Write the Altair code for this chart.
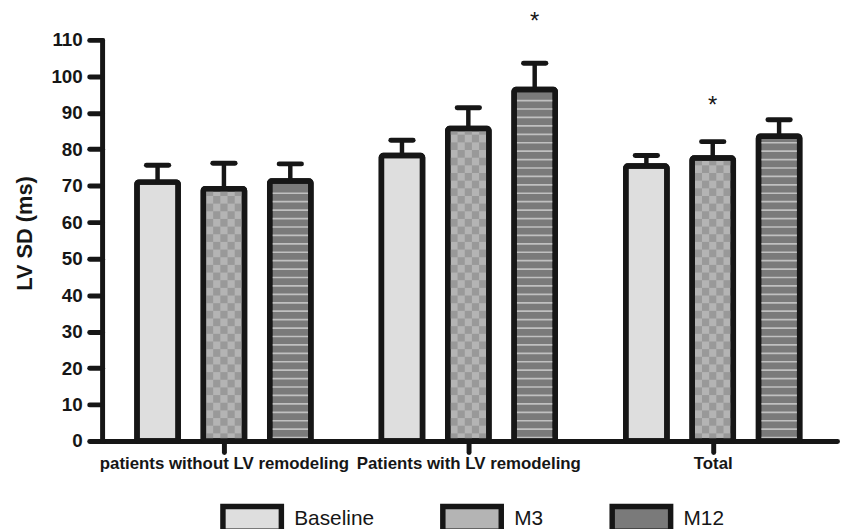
import math
import altair as alt
import pandas as pd

# ---------------- data ----------------
groups = ["patients without LV remodeling", "Patients with LV remodeling", "Total"]
series = ["Baseline", "M3", "M12"]

baseline_mean = [71.0, 78.3, 75.4]
m3_mean = [69.2, 85.7, 77.6]
m12_mean = [71.3, 96.4, 83.6]

baseline_err = [4.6, 4.2, 2.9]
m3_err = [7.0, 5.7, 4.5]
m12_err = [4.7, 7.2, 4.5]

star_groups = ["Patients with LV remodeling", "Total"]
star_series = ["M12", "M3"]
star_levels = [115.5, 92.4]

y_ticks = list(range(0, 111, 10))

# ---------------- layout / style ----------------
FONT = "Liberation Sans"
INK = "#161616"
FILL = {"Baseline": "#dedede", "M3": "#b4b4b4", "M12": "#7a7a7a"}
CHECK_DARK = "#999999"
STRIPE = "#c0c0c0"

W, H = 742, 405
X_MAX = 11.075
FIRST = 0.836
GAP = 3.683
STEP = 1.0
BAR_HW = 0.31          # half width of bar (stroke centre)
INNER_HW = 0.27        # half width of the inner (patterned) area
TOP_INSET = 0.75       # stroke half-thickness in y units
CAP_HW = 0.168
N_COLS = 5
CELL_H = 2.1
STRIPE_START = 0.95
STRIPE_STEP = 2.31

means = {"Baseline": baseline_mean, "M3": m3_mean, "M12": m12_mean}
errs = {"Baseline": baseline_err, "M3": m3_err, "M12": m12_err}

rows = []
for g, grp in enumerate(groups):
    for s, ser in enumerate(series):
        c = FIRST + g * GAP + s * STEP
        m = means[ser][g]
        e = errs[ser][g]
        rows.append(dict(group=grp, series=ser, xc=c, x0=c - BAR_HW, x1=c + BAR_HW,
                         base=0.0, mean=m, top=m + e, cap0=c - CAP_HW, cap1=c + CAP_HW))
bars = pd.DataFrame(rows)

cells = []
stripes = []
for r in rows:
    inner_top = r["mean"] - TOP_INSET
    left = r["xc"] - INNER_HW
    cw = 2 * INNER_HW / N_COLS
    if r["series"] == "M3":
        n = math.ceil(inner_top / CELL_H)
        for i in range(n):
            y0 = i * CELL_H
            y1 = min((i + 1) * CELL_H, inner_top)
            for j in range(N_COLS):
                if (i + j) % 2 == 0:
                    cells.append(dict(cx0=left + j * cw, cx1=left + (j + 1) * cw, cy0=y0, cy1=y1))
    if r["series"] == "M12":
        lvl = STRIPE_START
        while lvl < inner_top - 0.3:
            stripes.append(dict(sx0=r["xc"] - INNER_HW, sx1=r["xc"] + INNER_HW, sy=lvl))
            lvl += STRIPE_STEP
cells = pd.DataFrame(cells)
stripes = pd.DataFrame(stripes)

stars = []
for grp, ser, lvl in zip(star_groups, star_series, star_levels):
    g = groups.index(grp)
    s = series.index(ser)
    stars.append(dict(xc=FIRST + g * GAP + s * STEP, sy=lvl, t="*"))
stars = pd.DataFrame(stars)

centers = [FIRST + g * GAP + STEP for g in range(len(groups))]
label_expr = " : ".join(
    [f"datum.value < {centers[i] + 1.5:.3f} ? '{groups[i]}'" for i in range(len(groups) - 1)]
) + f" : '{groups[-1]}'"

x_axis = alt.Axis(values=centers, labelExpr=label_expr, title=None, grid=False,
                  domainWidth=5, domainColor=INK, domainCap="round",
                  tickSize=11, tickWidth=5, tickColor=INK, tickCap="round",
                  labelFont=FONT, labelFontSize=17, labelFontWeight="bold", labelColor=INK,
                  labelPadding=4, labelOverlap=False, labelFlush=False, labelLimit=0)
y_axis = alt.Axis(values=y_ticks, title="LV SD (ms)", grid=False,
                  domainWidth=5, domainColor=INK, domainCap="round",
                  tickSize=13, tickWidth=5, tickColor=INK, tickCap="round",
                  labelFont=FONT, labelFontSize=19, labelFontWeight="bold", labelColor=INK,
                  labelPadding=7, labelOverlap=False, labelFlush=False,
                  titleFont=FONT, titleFontSize=22, titleFontWeight="bold", titleColor=INK,
                  titleX=-78, titleY=195, titleAngle=-90, titleBaseline="middle", titleAlign="center")
x_scale = alt.Scale(domain=[0, X_MAX], nice=False, zero=False)
y_scale = alt.Scale(domain=[0, 110], nice=False, zero=True)


def X(f):
    return alt.X(f"{f}:Q", scale=x_scale, axis=x_axis)


def Y(f):
    return alt.Y(f"{f}:Q", scale=y_scale, axis=y_axis)


SWATCH = "M-1,-0.42H1V0.42H-1Z"

fill_layer = alt.Chart(bars).mark_rect(stroke=INK, strokeWidth=5.5, cornerRadius=2).encode(
    x=X("x0"), x2="x1", y=Y("base"), y2="mean",
    color=alt.Color("series:N", scale=alt.Scale(domain=series, range=[FILL[s] for s in series]),
                    legend=alt.Legend(title=None, orient="none", direction="horizontal",
                                      legendX=119, legendY=451,
                                      symbolType=SWATCH, symbolSize=3481,
                                      symbolStrokeColor=INK, symbolStrokeWidth=5.5,
                                      symbolOpacity=1,
                                      labelFont=FONT, labelFontSize=21, labelColor=INK,
                                      labelOffset=10, columnPadding=58, padding=0)),
)

check_layer = alt.Chart(cells).mark_rect(color=CHECK_DARK).encode(
    x=X("cx0"), x2="cx1", y=Y("cy0"), y2="cy1")

stripe_layer = alt.Chart(stripes).mark_rule(color=STRIPE, strokeWidth=1.7).encode(
    x=X("sx0"), x2="sx1", y=Y("sy"))

outline_layer = alt.Chart(bars).mark_rect(fillOpacity=0, stroke=INK, strokeWidth=5.5,
                                          cornerRadius=2).encode(
    x=X("x0"), x2="x1", y=Y("base"), y2="mean")

stem_layer = alt.Chart(bars).mark_rule(color=INK, strokeWidth=4.5).encode(
    x=X("xc"), y=Y("mean"), y2="top")

cap_layer = alt.Chart(bars).mark_rule(color=INK, strokeWidth=5, strokeCap="round").encode(
    x=X("cap0"), x2="cap1", y=Y("top"))

star_layer = alt.Chart(stars).mark_text(font=FONT, fontSize=24, color=INK,
                                        baseline="alphabetic", dy=9).encode(
    x=X("xc"), y=Y("sy"), text="t:N")

chart = alt.layer(fill_layer, check_layer, stripe_layer, outline_layer,
                  stem_layer, cap_layer, star_layer).properties(
    width=W, height=H,
    autosize=alt.AutoSizeParams(type="none"),
    padding={"left": 95, "top": 29.7, "right": 3, "bottom": 86},
).configure_view(stroke=None)

chart.save("out.html", embed_options={"renderer": "svg", "actions": False})
